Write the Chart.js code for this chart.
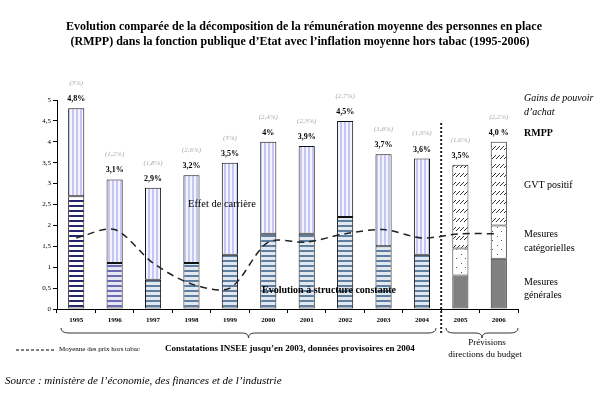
<!DOCTYPE html>
<html>
<head>
<meta charset="utf-8">
<script src="https://cdn.jsdelivr.net/npm/chart.js@4"></script>
<style>
  html, body { margin: 0; padding: 0; background: #fff; }
  #wrap { width: 609px; height: 399px; position: relative; }
</style>
</head>
<body>
<div id="wrap"><canvas id="myChart" width="609" height="399"></canvas></div>
<script>
// data
const years = ['1995', '1996', '1997', '1998', '1999', '2000', '2001', '2002', '2003', '2004', '2005', '2006'];
const structureConstante = [2.7, 1.1, 0.7, 1.1, 1.3, 1.8, 1.8, 2.2, 1.5, 1.3, null, null];
const effetCarriere = [2.1, 2.0, 2.2, 2.1, 2.2, 2.2, 2.1, 2.3, 2.2, 2.3, null, null];
const mesuresGenerales = [null, null, null, null, null, null, null, null, null, null, 0.8, 1.2];
const mesuresCategorielles = [null, null, null, null, null, null, null, null, null, null, 0.65, 0.8];
const gvtPositif = [null, null, null, null, null, null, null, null, null, null, 2.0, 2.0];
const prixHorsTabac = [1.7, 1.9, 1.1, 0.6, 0.5, 1.6, 1.6, 1.8, 1.9, 1.7, 1.8, 1.8];
const rmppLabels = ['4,8%', '3,1%', '2,9%', '3,2%', '3,5%', '4%', '3,9%', '4,5%', '3,7%', '3,6%', '3,5%', '4,0 %'];
const gainLabels = ['(3%)', '(1,2%)', '(1,8%)', '(2,6%)', '(3%)', '(2,4%)', '(2,3%)', '(2,7%)', '(1,8%)', '(1,9%)', '(1,6%)', '(2,2%)'];
const yTicks = [0, 0.5, 1, 1.5, 2, 2.5, 3, 3.5, 4, 4.5, 5];

const SERIF = '"Liberation Serif", "DejaVu Serif", serif';

// small canvas patterns for the bar fills
function makePattern(w, h, draw) {
    const c = document.createElement('canvas');
    c.width = w; c.height = h;
    const g = c.getContext('2d');
    draw(g);
    return g.createPattern(c, 'repeat');
}
const vStripes = makePattern(4, 4, g => {
    g.fillStyle = '#f4f4ff'; g.fillRect(0, 0, 4, 4);
    g.fillStyle = '#c6c6f4'; g.fillRect(0, 0, 2, 4);
});
function hStripes(line, bg) {
    return makePattern(4, 5, g => {
        g.fillStyle = bg; g.fillRect(0, 0, 4, 5);
        g.fillStyle = line; g.fillRect(0, 0, 4, 2);
    });
}
const hNavy = hStripes('#26266e', '#ffffff');
const hPurple = hStripes('#6a6ab4', '#e6e6f4');
const hSteel = hStripes('#5f7e9f', '#e2e8f0');
const hatch = makePattern(4, 9, g => {
    g.fillStyle = '#fff'; g.fillRect(0, 0, 4, 9);
    g.strokeStyle = '#333'; g.lineWidth = 1;
    g.beginPath(); g.moveTo(0, 6); g.lineTo(4, 2); g.stroke();
});
const dots = makePattern(9, 9, g => {
    g.fillStyle = '#fff'; g.fillRect(0, 0, 9, 9);
    g.fillStyle = '#555';
    g.fillRect(2, 2, 1, 1); g.fillRect(6, 6, 1, 1);
});

const lowerFills = [hNavy, hPurple, hSteel, hSteel, hSteel, hSteel, hSteel, hSteel, hSteel, hSteel, hSteel, hSteel];

// annotations, braces, legend texts
const decorations = {
    id: 'decorations',
    afterDatasetsDraw(chart) {
        const ctx = chart.ctx;
        const x = chart.scales.x, y = chart.scales.y;
        ctx.save();
        ctx.fillStyle = '#000';
        ctx.textBaseline = 'middle';

        // separator between observed years and forecasts
        const sepX = (x.getPixelForValue(9) + x.getPixelForValue(10)) / 2;
        ctx.strokeStyle = '#222';
        ctx.lineWidth = 2;
        ctx.setLineDash([2, 2]);
        ctx.beginPath(); ctx.moveTo(sepX, 123); ctx.lineTo(sepX, 335); ctx.stroke();
        ctx.setLineDash([]);

        // labels over bars
        ctx.textAlign = 'center';
        const sets = chart.data.datasets.filter(d => d.type !== 'line');
        years.forEach((yr, i) => {
            let sum = 0;
            sets.forEach(d => { sum += d.data[i] || 0; });
            const top = y.getPixelForValue(sum);
            const cx = x.getPixelForValue(i);
            ctx.fillStyle = '#000';
            ctx.font = 'bold 8px ' + SERIF;
            ctx.fillText(rmppLabels[i], cx, top - 9);
            ctx.fillStyle = '#a8a8a8';
            ctx.font = 'italic 7px ' + SERIF;
            ctx.fillText(gainLabels[i], cx, top - 25);
        });

        // texts inside the plot
        ctx.fillStyle = '#000';
        ctx.textAlign = 'left';
        ctx.font = '10.5px ' + SERIF;
        ctx.fillText('Effet de carrière', 188, 204);
        ctx.font = 'bold 10px ' + SERIF;
        ctx.fillText('Evolution à structure constante', 262, 290);

        // right side legend
        ctx.font = 'italic 10px ' + SERIF;
        ctx.fillText('Gains de pouvoir', 524, 98);
        ctx.fillText('d\u2019achat', 524, 112);
        ctx.font = 'bold 10px ' + SERIF;
        ctx.fillText('RMPP', 524, 133);
        ctx.font = '10px ' + SERIF;
        ctx.fillText('GVT positif', 524, 185);
        ctx.fillText('Mesures', 524, 234);
        ctx.fillText('catégorielles', 524, 248);
        ctx.fillText('Mesures', 524, 282);
        ctx.fillText('générales', 524, 295);

        // braces under the years
        function brace(x1, x2, yTop, h) {
            const mid = (x1 + x2) / 2;
            ctx.strokeStyle = '#333';
            ctx.lineWidth = 1;
            ctx.beginPath();
            ctx.moveTo(x1, yTop);
            ctx.quadraticCurveTo(x1, yTop + h / 2, x1 + 8, yTop + h / 2);
            ctx.lineTo(mid - 6, yTop + h / 2);
            ctx.quadraticCurveTo(mid, yTop + h / 2, mid, yTop + h);
            ctx.quadraticCurveTo(mid, yTop + h / 2, mid + 6, yTop + h / 2);
            ctx.lineTo(x2 - 8, yTop + h / 2);
            ctx.quadraticCurveTo(x2, yTop + h / 2, x2, yTop);
            ctx.stroke();
        }
        brace(61, 436, 328, 10);
        brace(446, 518, 328, 10);

        // bottom notes
        ctx.strokeStyle = '#000';
        ctx.lineWidth = 1;
        ctx.setLineDash([3, 2]);
        ctx.beginPath(); ctx.moveTo(16, 350); ctx.lineTo(55, 350); ctx.stroke();
        ctx.setLineDash([]);
        ctx.font = '7px ' + SERIF;
        ctx.fillText('Moyenne des prix hors tabac', 59, 349);
        ctx.font = 'bold 9px ' + SERIF;
        ctx.fillText('Constatations INSEE jusqu\u2019en 2003, données provisoires en 2004', 165, 349);
        ctx.textAlign = 'center';
        ctx.font = '9px ' + SERIF;
        ctx.fillText('Prévisions', 487, 343);
        ctx.fillText('directions du budget', 485, 355);
        ctx.textAlign = 'left';
        ctx.font = 'italic 11px ' + SERIF;
        ctx.fillText('Source : ministère de l\u2019économie, des finances et de l\u2019industrie', 5, 381);

        // title
        ctx.textAlign = 'center';
        ctx.font = 'bold 12px ' + SERIF;
        ctx.fillText('Evolution comparée de la décomposition de la rémunération moyenne des personnes en place', 304, 27, 545);
        ctx.fillText('(RMPP) dans la fonction publique d\u2019Etat avec l\u2019inflation moyenne hors tabac (1995-2006)', 300, 42, 505);
        ctx.restore();
    }
};

const ctx = document.getElementById('myChart').getContext('2d');
const myChart = new Chart(ctx, {
    type: 'bar',
    data: {
        labels: years,
        datasets: [
            {
                type: 'line',
                label: 'Moyenne des prix hors tabac',
                data: prixHorsTabac,
                stack: 'prix',
                borderColor: '#222',
                borderWidth: 1.5,
                borderDash: [7, 5],
                pointRadius: 0,
                tension: 0.3,
                fill: false,
                order: 0
            },
            { label: 'Evolution à structure constante', data: structureConstante, stack: 'rmpp', backgroundColor: lowerFills, borderColor: '#111', borderWidth: 1, borderSkipped: false, order: 1 },
            { label: 'Effet de carrière', data: effetCarriere, stack: 'rmpp', backgroundColor: vStripes, borderColor: '#111', borderWidth: 1, borderSkipped: false, order: 1 },
            { label: 'Mesures générales', data: mesuresGenerales, stack: 'rmpp', backgroundColor: '#808080', borderColor: '#333', borderWidth: 1, borderSkipped: false, order: 1 },
            { label: 'Mesures catégorielles', data: mesuresCategorielles, stack: 'rmpp', backgroundColor: dots, borderColor: '#333', borderWidth: 1, borderSkipped: false, order: 1 },
            { label: 'GVT positif', data: gvtPositif, stack: 'rmpp', backgroundColor: hatch, borderColor: '#333', borderWidth: 1, borderSkipped: false, order: 1 }
        ]
    },
    options: {
        responsive: false,
        animation: false,
        events: [],
        layout: { padding: { top: 100, right: 91, left: 0, bottom: 0 } },
        datasets: { bar: { barPercentage: 0.42, categoryPercentage: 1 } },
        plugins: { legend: { display: false }, title: { display: false }, tooltip: { enabled: false } },
        scales: {
            x: {
                stacked: true,
                afterFit: s => { s.height = 90; },
                grid: { offset: true, drawOnChartArea: false, tickLength: 4, color: '#000' },
                border: { color: '#000', width: 1 },
                ticks: { color: '#000', padding: 3, font: { family: SERIF, size: 7, weight: 'bold' }, maxRotation: 0 }
            },
            y: {
                stacked: true,
                min: 0,
                max: 5,
                afterFit: s => { s.width = 57; },
                afterBuildTicks: s => { s.ticks = yTicks.map(v => ({ value: v })); },
                grid: { drawOnChartArea: false, tickLength: 4, color: '#000' },
                border: { color: '#000', width: 1 },
                ticks: {
                    color: '#000',
                    padding: 2,
                    font: { family: SERIF, size: 7 },
                    callback: v => String(v).replace('.', ',')
                }
            }
        }
    },
    plugins: [decorations]
});
</script>
</body>
</html>
